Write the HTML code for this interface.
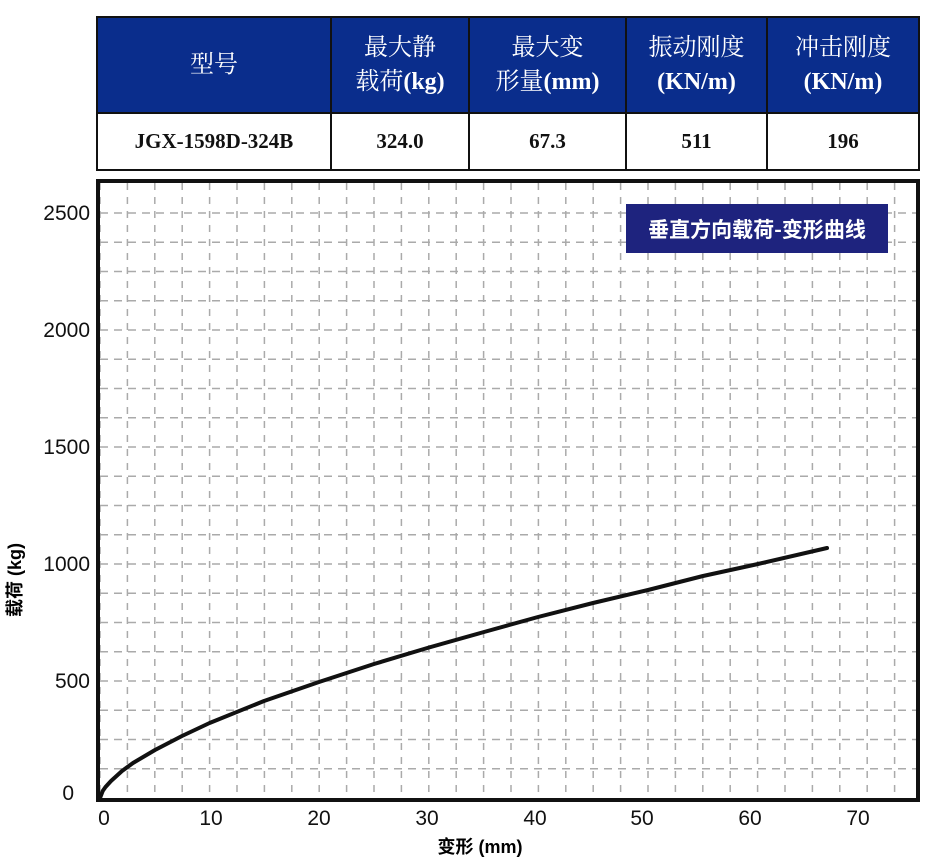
<!DOCTYPE html>
<html><head><meta charset="utf-8"><style>
body{margin:0;width:937px;height:863px;background:#fff;position:relative;overflow:hidden;font-family:"Liberation Serif","Noto Serif CJK SC",serif}
table{position:absolute;left:96px;top:16px;border-collapse:collapse;}
td{border:2px solid #111;text-align:center;padding:0}
.h td{background:#0a2d8c;color:#fff;font-size:24px;line-height:34px;height:94px}
.d td{font-weight:bold;font-size:21px;height:55px;color:#111}
</style></head><body>
<table>
<tr class="h"><td style="width:232px">型号</td><td style="width:136px">最大静<br>载荷<b>(kg)</b></td><td style="width:155px">最大变<br>形量<b>(mm)</b></td><td style="width:139px">振动刚度<br><b>(KN/m)</b></td><td style="width:150px">冲击刚度<br><b>(KN/m)</b></td></tr>
<tr class="d"><td>JGX-1598D-324B</td><td>324.0</td><td>67.3</td><td>511</td><td>196</td></tr>
</table>
<svg width="937" height="863" style="position:absolute;left:0;top:0" font-family="Liberation Sans, DejaVu Sans, sans-serif">
<g stroke="#aaa" stroke-width="1.5" stroke-dasharray="7,7" fill="none">
<path d="M100 183V798 M127.4 183V798 M154.8 183V798 M182.2 183V798 M209.6 183V798 M237 183V798 M264.4 183V798 M291.8 183V798 M319.2 183V798 M346.6 183V798 M374 183V798 M401.4 183V798 M428.8 183V798 M456.2 183V798 M483.6 183V798 M511 183V798 M538.4 183V798 M565.8 183V798 M593.2 183V798 M620.6 183V798 M648 183V798 M675.4 183V798 M702.8 183V798 M730.2 183V798 M757.6 183V798 M785 183V798 M812.4 183V798 M839.8 183V798 M867.2 183V798 M894.6 183V798"/>
</g>
<g stroke="#aaa" stroke-width="1.5" stroke-dasharray="8,6" fill="none">
<path d="M100 213H916 M100 242.3H916 M100 271.5H916 M100 300.8H916 M100 330H916 M100 359.3H916 M100 388.5H916 M100 417.8H916 M100 447H916 M100 476.3H916 M100 505.5H916 M100 534.8H916 M100 564H916 M100 593.3H916 M100 622.5H916 M100 651.8H916 M100 681H916 M100 710.3H916 M100 739.5H916 M100 768.8H916"/>
</g>
<rect x="98" y="181" width="820" height="619" fill="none" stroke="#111" stroke-width="4"/>
<polyline points="100,798 102.7,791 105.5,787 111,781 122,771 133,763 155,750 182,736 209.6,723 264,701 319,682 374,664 429,647.5 484,632 538,617 593,603 648,590 703,576 758,564 827,548" fill="none" stroke="#111" stroke-width="4" stroke-linejoin="round" stroke-linecap="round"/>
<rect x="626" y="204" width="262" height="49" fill="#1e237e"/>
<text x="757" y="237" fill="#fff" font-size="21" font-weight="bold" text-anchor="middle" font-family="Noto Sans CJK SC, sans-serif">垂直方向载荷-变形曲线</text>
<g font-size="21" text-anchor="end" fill="#111">
<text x="90" y="220">2500</text><text x="90" y="337">2000</text><text x="90" y="454">1500</text><text x="90" y="571">1000</text><text x="90" y="688">500</text><text x="74" y="800">0</text>
</g>
<g font-size="21" text-anchor="middle" fill="#111">
<text x="104" y="825">0</text><text x="211" y="825">10</text><text x="319" y="825">20</text><text x="427" y="825">30</text><text x="535" y="825">40</text><text x="642" y="825">50</text><text x="750" y="825">60</text><text x="858" y="825">70</text>
</g>
<text x="480" y="853" font-size="18" font-weight="bold" text-anchor="middle" font-family="Liberation Sans, Noto Sans CJK SC, sans-serif">变形 (mm)</text>
<text transform="translate(21,580) rotate(-90)" font-size="18" font-weight="bold" text-anchor="middle" font-family="Liberation Sans, Noto Sans CJK SC, sans-serif">载荷 (kg)</text>
</svg>
</body></html>
